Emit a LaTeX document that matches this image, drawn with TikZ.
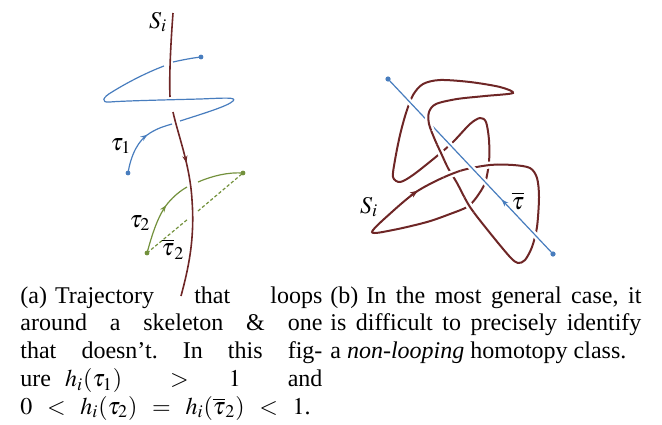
\documentclass[tikz,border=0pt]{standalone}
\usepackage{mathptmx}
\usepackage[no-math]{fontspec}
\setmainfont{Liberation Serif}
\usetikzlibrary{arrows.meta,decorations.markings}
\definecolor{skel}{RGB}{110,38,38}
\definecolor{traj}{RGB}{72,125,190}
\definecolor{trajg}{RGB}{115,145,60}
\tikzset{
  skelline/.style={draw=skel, line width=0.8pt},
  knotline/.style={draw=skel, line width=1pt},
  bluel/.style={draw=traj, line width=0.6pt},
  greenl/.style={draw=trajg, line width=0.6pt},
  dashgreen/.style={draw=trajg, line width=0.6pt, dash pattern=on 1.6pt off 1.1pt},
  halo/.style={draw=white, line width=3.5pt},
  midarrow/.style={postaction={decorate}, decoration={markings, mark=at position #1 with {\arrow{Stealth[length=3.5pt,width=2.6pt]}}}},
  midarrowrev/.style={postaction={decorate}, decoration={markings, mark=at position #1 with {\arrowreversed{Stealth[length=3.5pt,width=2.6pt]}}}},
  lbl/.style={inner sep=0pt, font=\fontsize{12}{14}\selectfont},
  capbox/.style={anchor=base west, inner sep=0pt},
}
\begin{document}
\begin{tikzpicture}[x=0.5pt,y=-0.5pt]
\useasboundingbox (0,0) rectangle (662,424);

% ---------------- (a) ----------------
\coordinate (sTop) at (173,13);
\coordinate (sMidA) at (170,97);
\coordinate (sMidB) at (173,112);
\coordinate (sBot) at (181,296);
\draw[skelline] (sTop) .. controls (171,40) and (169,75) .. (sMidA);
\draw[skelline, midarrow=0.28] (sMidB) .. controls (178,135) and (190,165) .. (192,200) .. controls (195,240) and (188,270) .. (sBot);

\coordinate (tOneS) at (128,173);
\coordinate (tOneA) at (172,124);
\coordinate (tOneB) at (180,121);
\coordinate (tOneC) at (164,66);
\coordinate (tOneD) at (173,62);
\coordinate (tOneE) at (201,57);
\draw[bluel, midarrow=0.62] (tOneS) .. controls (131,155) and (138,140) .. (150,133) .. controls (158,128) and (165,126) .. (tOneA);
\draw[bluel] (tOneB) .. controls (205,113) and (228,106) .. (233,101) .. controls (237,97) and (225,98) .. (200,99) .. controls (160,100) and (120,101) .. (110,102) .. controls (100,103) and (103,97) .. (112,92) .. controls (128,82) and (148,72) .. (tOneC);
\draw[bluel] (tOneD) .. controls (182,60) and (192,58) .. (tOneE);
\fill[traj] (tOneS) circle (1.2pt);
\fill[traj] (tOneE) circle (1.2pt);

\coordinate (gA) at (147,253);
\coordinate (gB) at (187,187);
\coordinate (gC) at (198,182);
\coordinate (gD) at (243,173);
\coordinate (dA) at (188,219);
\coordinate (dB) at (198,211);
\draw[greenl, midarrow=0.65] (gA) .. controls (152,235) and (158,215) .. (168,203) .. controls (174,196) and (180,191) .. (gB);
\draw[greenl] (gC) .. controls (212,176) and (228,172) .. (gD);
\draw[dashgreen] (gA) -- (dA);
\draw[dashgreen] (dB) -- (gD);
\fill[trajg] (gA) circle (1.2pt);
\fill[trajg] (gD) circle (1.2pt);

\node[lbl] (lS) at (158,22) {$S_i$};
\node[lbl] (lTone) at (121,146) {$\tau_1$};
\node[lbl] (lTtwo) at (140,223) {$\tau_2$};
\node[lbl] (lTtwob) at (173,249) {$\overline{\tau}_2$};

% ---------------- (b) ----------------
\draw[knotline] plot[smooth cycle] coordinates {(372,232) (393,211) (416,192) (440,179) (463,170) (490,165) (513,165) (530,168) (537,178) (539,197) (537,227) (532,247) (525,260) (518,263) (510,257) (490,233) (470,207) (457,183) (448,168) (441,153) (435,140) (429,124) (429,112) (436,104) (457,99) (485,96) (513,93) (500,87) (470,82) (440,80) (423,84) (413,95) (406,113) (400,135) (395,160) (393,177) (400,182) (413,175) (437,156) (453,142) (470,124) (480,118) (486,122) (489,140) (489,162) (485,183) (476,198) (467,207) (450,214) (427,222) (393,230)};

\coordinate (bA) at (388,79);
\coordinate (bB) at (553,254);
\draw[bluel, preaction={draw=white, line width=3pt}, midarrowrev=0.69] (bA) -- (bB);
\fill[traj] (bA) circle (1.3pt);
\fill[traj] (bB) circle (1.3pt);

% over-crossings of the knot
\begin{scope}
\clip (452,174) circle (4.5pt);
\draw[halo] plot[smooth] coordinates {(393,211) (416,192) (440,179) (463,170) (490,165) (513,165)};
\draw[knotline] plot[smooth] coordinates {(393,211) (416,192) (440,179) (463,170) (490,165) (513,165)};
\end{scope}
\begin{scope}
\clip (489,165) circle (4.5pt);
\draw[halo] plot[smooth] coordinates {(440,179) (463,170) (490,165) (513,165) (530,168)};
\draw[knotline] plot[smooth] coordinates {(440,179) (463,170) (490,165) (513,165) (530,168)};
\end{scope}
\begin{scope}
\clip (441,152.5) circle (4.5pt);
\draw[halo] plot[smooth] coordinates {(457,183) (448,168) (441,153) (435,140) (429,124) (429,112)};
\draw[knotline] plot[smooth] coordinates {(457,183) (448,168) (441,153) (435,140) (429,124) (429,112)};
\end{scope}
\begin{scope}
\clip (469,205) circle (4.5pt);
\draw[halo] plot[smooth] coordinates {(510,257) (490,233) (470,207) (457,183) (448,168) (441,153)};
\draw[knotline] plot[smooth] coordinates {(510,257) (490,233) (470,207) (457,183) (448,168) (441,153)};
\end{scope}
\begin{scope}
\clip (429,122) circle (4.5pt);
\draw[halo] plot[smooth] coordinates {(441,153) (435,140) (429,124) (429,112) (436,104) (457,99)};
\draw[knotline] plot[smooth] coordinates {(441,153) (435,140) (429,124) (429,112) (436,104) (457,99)};
\end{scope}

\coordinate (kArrA) at (411,195.3);
\coordinate (kArrB) at (418,190.6);
\draw[knotline, -{Stealth[length=4pt,width=3pt]}] (kArrA) -- (kArrB);

\node[lbl] (lSb) at (369,207) {$S_i$};
\node[lbl] (lTb) at (518,201) {$\overline{\tau}$};

% ---------------- captions ----------------
\node[capbox] (capa) at (20,303) {\parbox[t]{151pt}{\fontsize{12}{13.9}\selectfont\frenchspacing\thickmuskip=11mu plus 2mu
(a)\hspace{4pt}Trajectory that loops\linebreak
around a skeleton \& one\linebreak
that doesn't. In this fig-\linebreak
ure\hspace{7pt}$h_i(\tau_1)$\hspace{24pt}$>$\hspace{20pt}$1$\hfill and\linebreak
$0<h_i(\tau_2)=h_i(\overline{\tau}_2)<1$.}};
\node[capbox] (capb) at (330,303) {\parbox[t]{155.5pt}{\fontsize{12}{13.9}\selectfont\frenchspacing
(b)\hspace{4pt}In the most general case, it\linebreak
is difficult to precisely identify\linebreak
a \textit{non-looping} homotopy class.}};
\end{tikzpicture}
\end{document}
